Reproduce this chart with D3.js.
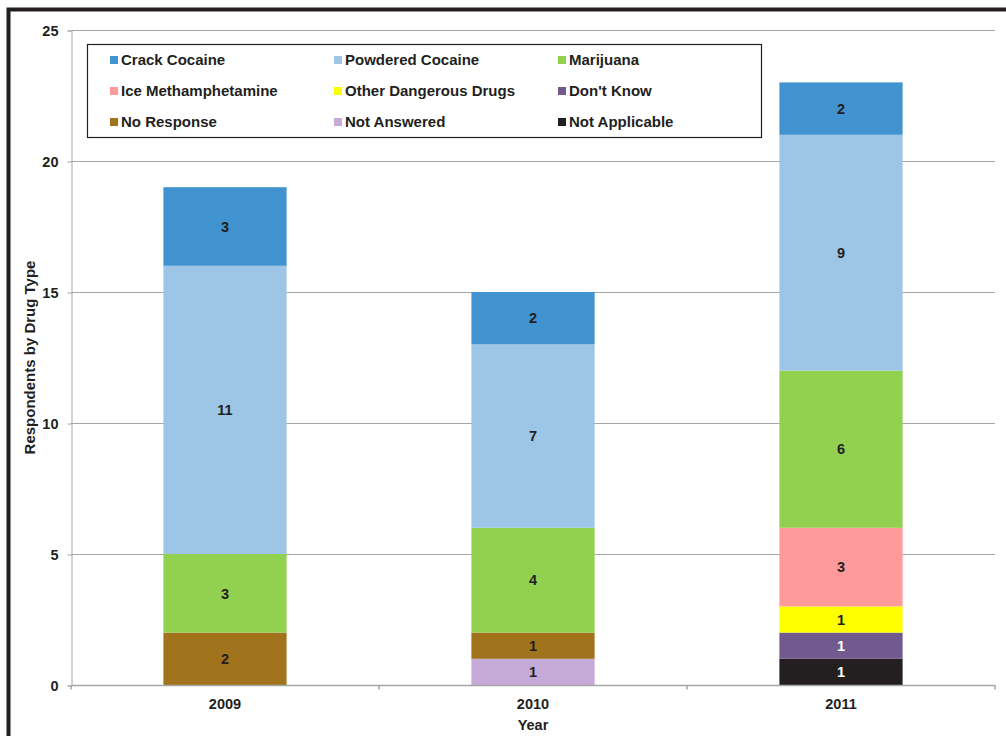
<!DOCTYPE html>
<html>
<head>
<meta charset="utf-8">
<script src="https://cdn.jsdelivr.net/npm/d3@7"></script>
<style>
  html, body { margin: 0; padding: 0; background: #fff; }
  svg { display: block; font-family: "Liberation Sans", Arial, sans-serif; }
</style>
</head>
<body>
<svg id="chart" width="1006" height="736"></svg>
<script>
// Survey years on the x axis
const years = ["2009", "2010", "2011"];

// Series in stacking order (bottom to top); values per year
const seriesNames = [
  "Not Applicable", "Not Answered", "No Response", "Don't Know",
  "Other Dangerous Drugs", "Ice Methamphetamine", "Marijuana",
  "Powdered Cocaine", "Crack Cocaine"
];
const notApplicable   = [0, 0, 1];
const notAnswered     = [0, 1, 0];
const noResponse      = [2, 1, 0];
const dontKnow        = [0, 0, 1];
const otherDangerous  = [0, 0, 1];
const iceMeth         = [0, 0, 3];
const marijuana       = [3, 4, 6];
const powderedCocaine = [11, 7, 9];
const crackCocaine    = [3, 2, 2];
const seriesValues = [notApplicable, notAnswered, noResponse, dontKnow,
  otherDangerous, iceMeth, marijuana, powderedCocaine, crackCocaine];

// Legend reading order (left-to-right, top-to-bottom)
const legendOrder = [
  "Crack Cocaine", "Powdered Cocaine", "Marijuana",
  "Ice Methamphetamine", "Other Dangerous Drugs", "Don't Know",
  "No Response", "Not Answered", "Not Applicable"
];
const yTicks = [0, 5, 10, 15, 20, 25];

const colors = {
  "Crack Cocaine": "#4193D0",
  "Powdered Cocaine": "#9DC6E6",
  "Marijuana": "#92D050",
  "Ice Methamphetamine": "#FF9A9A",
  "Other Dangerous Drugs": "#FFFF00",
  "Don't Know": "#725A8E",
  "No Response": "#A2731D",
  "Not Answered": "#C5AAD8",
  "Not Applicable": "#231F20"
};
const whiteText = new Set(["Don't Know", "Not Applicable"]);
const ink = "#231F20";
const gridColor = "#A6A6A6";
const labelSize = 14.5;
const legendSize = 15;

const svg = d3.select("#chart");

// outer frame
svg.append("rect")
  .attr("x", 8.5).attr("y", 9.5)
  .attr("width", 1020).attr("height", 760)
  .attr("fill", "none").attr("stroke", ink).attr("stroke-width", 4);

const plot = { left: 71, right: 995, top: 30, bottom: 685 };

const x = d3.scaleBand().domain(years)
  .range([plot.left, plot.right]).paddingInner(0.6).paddingOuter(0.3);
const y = d3.scaleLinear().domain([0, 25]).range([plot.bottom, plot.top]);

// data table for stacking
const table = years.map((yr, i) => {
  const row = { year: yr };
  seriesNames.forEach((s, k) => { row[s] = seriesValues[k][i]; });
  return row;
});
const stacked = d3.stack().keys(seriesNames)(table);

// gridlines
svg.append("g").selectAll("line").data(yTicks.filter(t => t > 0)).join("line")
  .attr("x1", plot.left).attr("x2", plot.right)
  .attr("y1", d => Math.round(y(d)) + 0.5).attr("y2", d => Math.round(y(d)) + 0.5)
  .attr("stroke", gridColor).attr("stroke-width", 1);

// y axis
const yAxis = svg.append("g")
  .attr("transform", `translate(${plot.left + 0.5},0.5)`)
  .call(d3.axisLeft(y).tickValues(yTicks).tickSize(4).tickPadding(9));
yAxis.select(".domain").attr("stroke", gridColor);
yAxis.selectAll(".tick line").attr("stroke", gridColor);
yAxis.selectAll(".tick text")
  .attr("fill", ink).attr("font-size", labelSize).attr("font-weight", "bold")
  .attr("font-family", "Liberation Sans, Arial, sans-serif");

// bars
const layers = svg.append("g").selectAll("g").data(stacked).join("g")
  .attr("fill", d => colors[d.key]);
layers.selectAll("rect").data(d => d.filter(p => p[1] - p[0] > 0)).join("rect")
  .attr("x", d => x(d.data.year))
  .attr("width", x.bandwidth())
  .attr("y", d => y(d[1]))
  .attr("height", d => y(d[0]) - y(d[1]));

// value labels
stacked.forEach(layer => {
  layer.filter(p => p[1] - p[0] > 0).forEach(p => {
    svg.append("text")
      .attr("x", x(p.data.year) + x.bandwidth() / 2)
      .attr("y", (y(p[0]) + y(p[1])) / 2)
      .attr("dy", "0.36em")
      .attr("text-anchor", "middle")
      .attr("font-size", labelSize).attr("font-weight", "bold")
      .attr("fill", whiteText.has(layer.key) ? "#fff" : ink)
      .text(p[1] - p[0]);
  });
});

// x axis with category boundary ticks
const xBase = svg.append("g").attr("transform", `translate(0,${plot.bottom + 0.5})`);
xBase.append("line")
  .attr("x1", plot.left).attr("x2", plot.right + 0.5)
  .attr("stroke", gridColor).attr("stroke-width", 1.5);
const step = (plot.right - plot.left) / years.length;
xBase.selectAll("line.tk").data(d3.range(years.length + 1)).join("line")
  .attr("class", "tk")
  .attr("x1", i => plot.left + i * step).attr("x2", i => plot.left + i * step)
  .attr("y1", 0).attr("y2", 4)
  .attr("stroke", gridColor).attr("stroke-width", 1.5);
xBase.selectAll("text").data(years).join("text")
  .attr("x", d => x(d) + x.bandwidth() / 2)
  .attr("y", 23)
  .attr("text-anchor", "middle")
  .attr("font-size", labelSize).attr("font-weight", "bold").attr("fill", ink)
  .text(d => d);

// axis titles
svg.append("text")
  .attr("x", (plot.left + plot.right) / 2).attr("y", 730)
  .attr("text-anchor", "middle")
  .attr("font-size", labelSize).attr("font-weight", "bold").attr("fill", ink)
  .text("Year");
svg.append("text")
  .attr("transform", `translate(35,${(plot.top + plot.bottom) / 2}) rotate(-90)`)
  .attr("text-anchor", "middle")
  .attr("font-size", legendSize).attr("font-weight", "bold").attr("fill", ink)
  .text("Respondents by Drug Type");

// legend
const legend = svg.append("g");
legend.append("rect")
  .attr("x", 87.5).attr("y", 44.5).attr("width", 674).attr("height", 93)
  .attr("fill", "#fff").attr("stroke", ink).attr("stroke-width", 1.2);
const items = legend.selectAll("g.item").data(legendOrder).join("g")
  .attr("class", "item")
  .attr("transform", (d, i) => `translate(${110 + (i % 3) * 224},${60 + Math.floor(i / 3) * 31})`);
items.append("rect")
  .attr("x", 0).attr("y", -4).attr("width", 8).attr("height", 8)
  .attr("fill", d => colors[d]);
items.append("text")
  .attr("x", 11).attr("y", 0).attr("dy", "0.36em")
  .attr("font-size", legendSize).attr("font-weight", "bold").attr("fill", ink)
  .text(d => d);
</script>
</body>
</html>
